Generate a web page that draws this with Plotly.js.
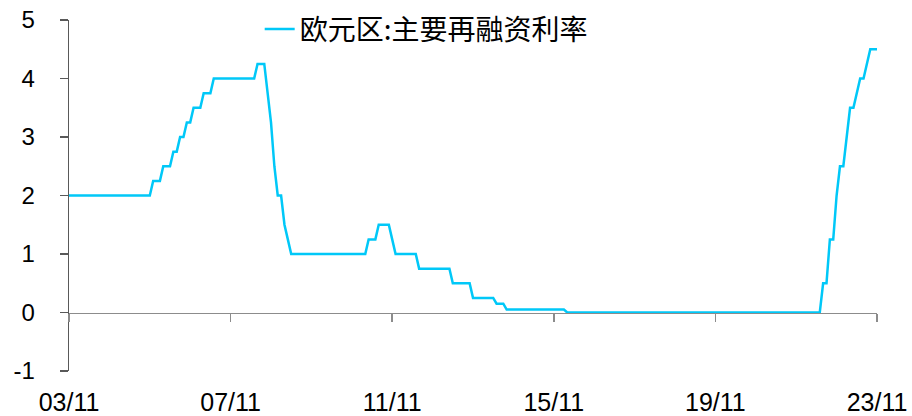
<!DOCTYPE html>
<html>
<head>
<meta charset="utf-8">
<script src="https://cdn.plot.ly/plotly-3.0.1.min.js"></script>
<style>html,body{margin:0;padding:0;background:#fff;}#chart{width:912px;height:416px;}</style>
</head>
<body>
<div id="chart"></div>
<script>
// Series name
var seriesName = "欧元区:主要再融资利率";
// First month of the series (year, month)
var startYear = 2003, startMonth = 11;
// Monthly rate (%), 2003/11 .. 2023/11
var rates = [
  2,2,2,2,2,2,2,2,2,2,2,2,2,2,2,2,2,2,2,2,2,2,2,2,2,          // 2003/11-2005/11
  2.25,2.25,2.25, 2.5,2.5,2.5, 2.75,2.75, 3,3, 3.25,3.25,      // 2005/12-2006/11
  3.5,3.5,3.5, 3.75,3.75,3.75,                                 // 2006/12-2007/05
  4,4,4,4,4,4,4,4,4,4,4,4,4,                                   // 2007/06-2008/06
  4.25,4.25,4.25, 3.75, 3.25, 2.5, 2,2, 1.5, 1.25,             // 2008/07-2009/04
  1,1,1,1,1,1,1,1,1,1,1,1,1,1,1,1,1,1,1,1,1,1,1,               // 2009/05-2011/03
  1.25,1.25,1.25, 1.5,1.5,1.5,1.5, 1.25,                       // 2011/04-2011/11
  1,1,1,1,1,1,1,                                               // 2011/12-2012/06
  0.75,0.75,0.75,0.75,0.75,0.75,0.75,0.75,0.75,0.75,           // 2012/07-2013/04
  0.5,0.5,0.5,0.5,0.5,0.5,                                     // 2013/05-2013/10
  0.25,0.25,0.25,0.25,0.25,0.25,0.25,                          // 2013/11-2014/05
  0.15,0.15,0.15,                                              // 2014/06-2014/08
  0.05,0.05,0.05,0.05,0.05,0.05,0.05,0.05,0.05,0.05,0.05,0.05,0.05,0.05,0.05,0.05,0.05,0.05, // 2014/09-2016/02
  0,0,0,0,0,0,0,0,0,0,0,0,0,0,0,0,0,0,0,0,0,0,0,0,0,0,0,0,0,0,0,0,0,0,0,0,0,0,
  0,0,0,0,0,0,0,0,0,0,0,0,0,0,0,0,0,0,0,0,0,0,0,0,0,0,0,0,0,0,0,0,0,0,0,0,0,0, // 2016/03-2022/06
  0.5,0.5, 1.25,1.25, 2, 2.5,2.5, 3, 3.5,3.5, 3.75, 4,4, 4.25, 4.5,4.5,4.5 // 2022/07-2023/11
];
// Month category labels "YY/MM"
var months = [];
(function(){
  var y = startYear, m = startMonth;
  for (var i = 0; i < rates.length; i++) {
    months.push(String(y % 100).padStart(2,'0') + '/' + String(m).padStart(2,'0'));
    m++; if (m > 12) { m = 1; y++; }
  }
})();
// Tick labels shown on x axis
var xTicks = ["03/11","07/11","11/11","15/11","19/11","23/11"];
var yTicks = [-1,0,1,2,3,4,5];

var lineColor = "#00C8F8";

var trace = {
  x: months, y: rates, type: 'scatter', mode: 'lines',
  name: seriesName,
  line: {color: lineColor, width: 2.5},
  hoverinfo: 'skip'
};
// carrier for the zero-line axis (draws nothing itself)
var axisCarrier = {
  x: months, y: rates, type: 'scatter', mode: 'lines',
  xaxis: 'x2', yaxis: 'y', showlegend: false, opacity: 0,
  line: {color: lineColor, width: 0}, hoverinfo: 'skip'
};

var layout = {
  width: 912, height: 416,
  margin: {l: 69, r: 35, t: 20, b: 45, pad: 0, autoexpand: false},
  paper_bgcolor: '#fff', plot_bgcolor: '#fff',
  font: {family: 'Liberation Sans, Arial, sans-serif', size: 23, color: '#000'},
  showlegend: true,
  legend: {
    x: 0.236, y: 1.045, xanchor: 'left', yanchor: 'top',
    bgcolor: 'rgba(0,0,0,0)', borderwidth: 0,
    font: {family: 'Noto Sans CJK SC', size: 28, color: '#000'}
  },
  xaxis: {
    type: 'category', range: [0, rates.length - 1],
    tickvals: xTicks, ticktext: xTicks,
    showline: false, ticks: '', showgrid: false, zeroline: false,
    ticklabelstandoff: 14, automargin: false,
    tickfont: {family: 'Liberation Sans, Arial, sans-serif', size: 25, color: '#000'},
    fixedrange: true
  },
  xaxis2: {
    overlaying: 'x', matches: 'x', anchor: 'free', position: 1/6,
    type: 'category', range: [0, rates.length - 1],
    tickvals: xTicks, showticklabels: false,
    showline: true, linecolor: '#8c8c8c', linewidth: 1.5,
    ticks: 'outside', ticklen: 8, tickcolor: '#8c8c8c', tickwidth: 1.5,
    showgrid: false, zeroline: false
  },
  yaxis: {
    range: [-1, 5], tickvals: yTicks, ticktext: yTicks.map(String),
    showline: true, linecolor: '#595959', linewidth: 1.3,
    ticks: 'outside', ticklen: 8, tickcolor: '#595959', tickwidth: 1.3,
    showgrid: false, zeroline: false,
    ticklabelstandoff: 20, automargin: false,
    tickfont: {family: 'Liberation Sans, Arial, sans-serif', size: 24, color: '#000'},
    fixedrange: true
  }
};

Plotly.newPlot('chart', [trace, axisCarrier], layout, {displayModeBar: false, staticPlot: true});
</script>
</body>
</html>
